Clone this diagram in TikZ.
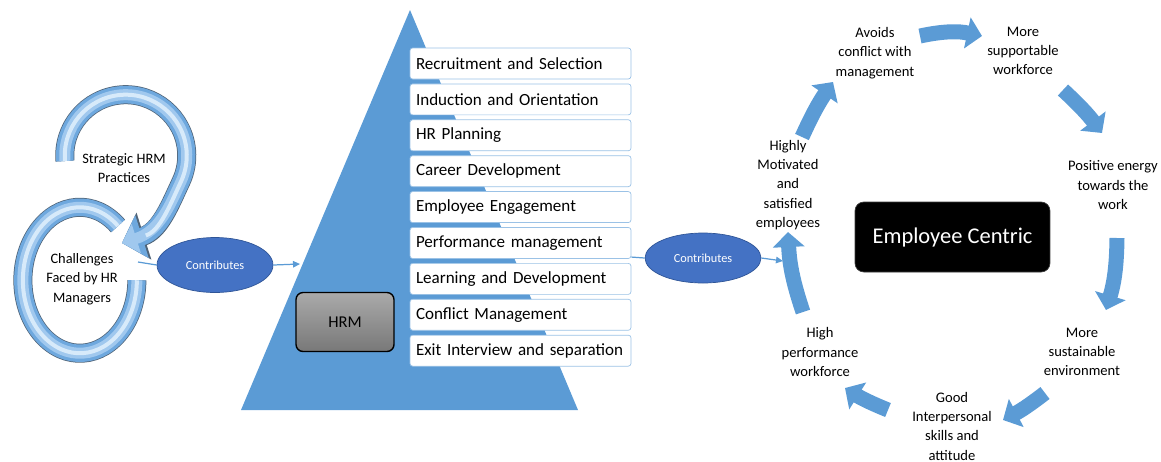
\documentclass[tikz,border=0pt]{standalone}
\usepackage{fontspec}
\setmainfont{Carlito}
\usetikzlibrary{shadings, shapes.geometric, arrows.meta}
\definecolor{triBlue}{RGB}{91,155,213}
\definecolor{boxLine}{RGB}{155,194,230}
\definecolor{ellBlue}{RGB}{68,114,196}
\definecolor{ellLine}{RGB}{47,85,151}
\definecolor{ringBlue}{RGB}{110,168,222}
\definecolor{ringPale}{RGB}{160,200,238}
\definecolor{ringLight}{RGB}{215,234,250}
\definecolor{ringDark}{RGB}{80,100,120}
\tikzstyle{listBox} = [rectangle, rounded corners=1.5pt, draw=boxLine, fill=white, text width=4.18cm, align=left, minimum height=0.62cm, inner xsep=0.12cm, inner ysep=0pt, font=\fontsize{9.7}{11}\selectfont]
\tikzstyle{hrmBox} = [rectangle, rounded corners=4pt, draw=black, line width=0.8pt, top color={rgb,255:red,170;green,170;blue,170}, bottom color={rgb,255:red,120;green,120;blue,120}, minimum width=1.96cm, minimum height=1.18cm, font=\fontsize{9.4}{11}\selectfont]
\tikzstyle{contrib} = [ellipse, draw=ellLine, fill=ellBlue, text=white, minimum width=2.32cm, minimum height=1.1cm, inner sep=0pt, font=\fontsize{7}{8}\selectfont]
\tikzstyle{cycText} = [align=center, inner sep=1pt, font=\fontsize{8.3}{11}\selectfont]
\tikzstyle{ringText} = [align=center, inner sep=1pt, font=\fontsize{8.2}{11}\selectfont]
\tikzstyle{centreBox} = [rectangle, rounded corners=5pt, draw={rgb,255:red,60;green,60;blue,60}, fill=black, text=white, minimum width=3.9cm, minimum height=1.4cm, font=\fontsize{12.8}{15}\selectfont]
\tikzstyle{cycArrow} = [line width=0.3cm, triBlue, -{Triangle[length=0.3cm, width=0.62cm]}]
\tikzstyle{thinLine} = [triBlue, line width=0.7pt]
\tikzstyle{thinArrow} = [triBlue, line width=0.7pt, -{Triangle[length=0.14cm, width=0.13cm]}]
\tikzstyle{ringOut} = [ringDark, line width=0.38cm]
\tikzstyle{ringMid} = [ringBlue, line width=0.35cm]
\tikzstyle{ringSoft} = [ringPale, line width=0.22cm]
\tikzstyle{ringHi} = [ringLight, line width=0.08cm]
\tikzstyle{tipOut} = [-{Triangle[length=0.46cm, width=0.96cm]}]
\tikzstyle{tipMid} = [-{Triangle[length=0.42cm, width=0.88cm]}]
\tikzstyle{tipSoft} = [-{Triangle[length=0.3cm, width=0.6cm]}]
\tikzstyle{tipHi} = [shorten >=0.5cm]

\begin{document}
\begin{tikzpicture}[x=0.02cm, y=-0.02cm, node distance=0.718cm]
\useasboundingbox (0,0) rectangle (1161,461);

% pyramid of practices
\fill[triBlue] (410,10) -- (241,410) -- (578,410) -- cycle;
\node [hrmBox] (hrm) at (345,322) {HRM};
\node [listBox] (p1) at (520.5,63.5) {Recruitment and Selection};
\node [listBox,below of=p1] (p2) {Induction and Orientation};
\node [listBox,below of=p2] (p3) {HR Planning};
\node [listBox,below of=p3] (p4) {Career Development};
\node [listBox,below of=p4] (p5) {Employee Engagement};
\node [listBox,below of=p5] (p6) {Performance management};
\node [listBox,below of=p6] (p7) {Learning and Development};
\node [listBox,below of=p7] (p8) {Conflict Management};
\node [listBox,below of=p8] (p9) {Exit Interview and separation};

% left circular arrows
\foreach \s/\t in {ringOut/tipOut, ringMid/tipMid, ringSoft/tipSoft, ringHi/tipHi}
  \draw[\s,\t] (65,161) arc[start angle=175, end angle=385, x radius=61, y radius=61]
    .. controls (170,205) and (160,231) .. (122,243);
\foreach \s in {ringOut, ringMid, ringSoft, ringHi}
  \draw[\s] (118,226) arc[start angle=-48, end angle=-360, x radius=57, y radius=73];
\node [ringText] (sp) at (124,168) {Strategic HRM\\Practices};
\node [ringText] (ch) at (82,279) {Challenges\\Faced by HR\\Managers};

\coordinate (r1) at (138,262);
\node [contrib] (e1) at (215,265) {Contributes};
\coordinate (t1) at (300,264);
\draw[thinLine] (r1) -- (e1.west);
\draw[thinArrow] (e1.east) -- (t1);

\node [contrib, minimum height=1cm] (e2) at (703,258) {Contributes};
\coordinate (t2) at (783,261);
\draw[thinLine] ([yshift=1pt]p6.south east) -- (e2.west);
\draw[thinArrow] (e2.east) -- (t2);

% employee centric cycle
\node [centreBox] (ec) at (952.5,237) {Employee Centric};
\node [cycText] (c1) at (875,53) {Avoids\\conflict with\\management};
\node [cycText] (c2) at (1023,51) {More\\supportable\\workforce};
\node [cycText] (c3) at (1113,185) {Positive energy\\towards the\\work};
\node [cycText] (c4) at (1082,352) {More\\sustainable\\environment};
\node [cycText] (c5) at (952,426) {Good\\Interpersonal\\skills and\\attitude};
\node [cycText] (c6) at (820,352) {High\\performance\\workforce};
\node [cycText] (c7) at (788,185) {Highly\\Motivated\\and\\satisfied\\employees};

\coordinate (as1) at (920,36);  \coordinate (ae1) at (982,36);
\coordinate (as2) at (1063,90); \coordinate (ae2) at (1102,133);
\coordinate (as3) at (1117,238); \coordinate (ae3) at (1106,310);
\coordinate (as4) at (1045,393); \coordinate (ae4) at (1003,420);
\coordinate (as5) at (888,410); \coordinate (ae5) at (845,388);
\coordinate (as6) at (803,312); \coordinate (ae6) at (788,232);
\coordinate (as7) at (802,137); \coordinate (ae7) at (833,82);
\foreach \i/\b in {1/12, 2/5, 3/8, 4/5, 5/5, 6/8, 7/5}
  \draw[cycArrow] (as\i) to[bend left=\b] (ae\i);

\end{tikzpicture}
\end{document}
